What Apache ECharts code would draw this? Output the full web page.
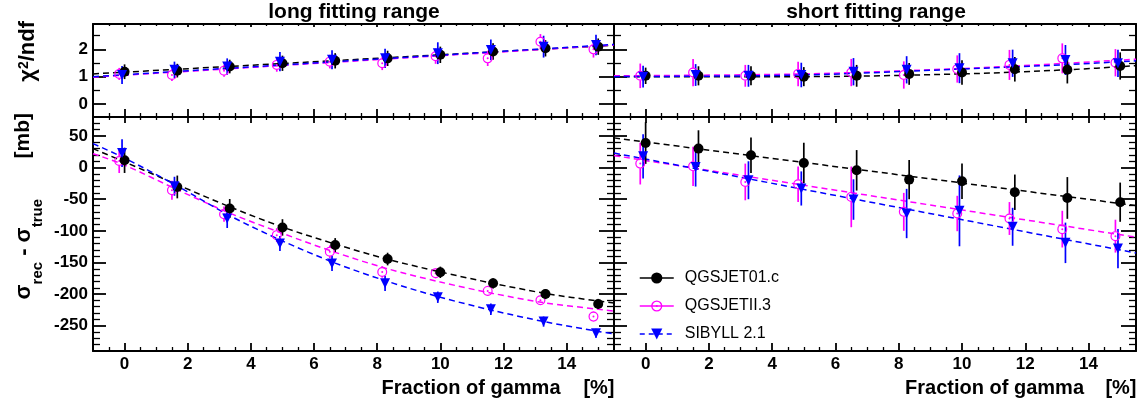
<!DOCTYPE html>
<html><head><meta charset="utf-8">
<script src="https://cdn.jsdelivr.net/npm/echarts@6/dist/echarts.min.js"></script>
<style>html,body{margin:0;padding:0;background:#fff}#c{width:1147px;height:405px}</style>
</head><body><div id="c"></div><script>
const FONT = '"Liberation Sans", Arial, Helvetica, sans-serif';

// ---- tick values ----
const xTickLabels = [0, 2, 4, 6, 8, 10, 12, 14];
const xMinorTicks = [-0.5, 0.5, 1, 1.5, 2.5, 3, 3.5, 4.5, 5, 5.5, 6.5, 7, 7.5, 8.5, 9, 9.5, 10.5, 11, 11.5, 12.5, 13, 13.5, 14.5, 15];
const chiTickLabels = [0, 1, 2];
const chiMinorTicks = [0.5, 1.5, 2.5];
const mbTickLabels = [-250, -200, -150, -100, -50, 0, 50];
const mbMinorTicks = [-280, -270, -260, -240, -230, -220, -210, -190, -180, -170, -160, -140, -130, -120, -110, -90, -80, -70, -60, -40, -30, -20, -10, 10, 20, 30, 40, 60, 70];

// ---- model names ----
const models = ['QGSJET01.c', 'QGSJETII.3', 'SIBYLL 2.1'];

// ---- x positions of the points (fraction of gamma, %) ----
const xQ01 = [0, 1.67, 3.33, 5.0, 6.67, 8.33, 10.0, 11.67, 13.33, 15.0];
const xQII = [-0.17, 1.5, 3.15, 4.82, 6.5, 8.16, 9.85, 11.5, 13.17, 14.85];
const xSIB = [-0.08, 1.58, 3.25, 4.92, 6.57, 8.25, 9.92, 11.6, 13.27, 14.93];

// ---- long fitting range, chi2/ndf ----
const chiLongQ01 = [1.18, 1.22, 1.37, 1.49, 1.58, 1.67, 1.80, 1.92, 2.04, 2.10];
const chiLongQ01Err = [0.27, 0.25, 0.25, 0.28, 0.28, 0.28, 0.30, 0.30, 0.30, 0.30];
const chiLongQII = [1.10, 1.06, 1.22, 1.43, 1.55, 1.49, 1.75, 1.67, 2.28, 2.00];
const chiLongQIIErr = [0.22, 0.22, 0.22, 0.25, 0.25, 0.25, 0.28, 0.28, 0.28, 0.30];
const chiLongSIB = [1.06, 1.25, 1.37, 1.55, 1.62, 1.67, 1.86, 1.98, 2.10, 2.16];
const chiLongSIBErr = [0.33, 0.30, 0.30, 0.35, 0.35, 0.35, 0.40, 0.38, 0.40, 0.38];

// ---- short fitting range, chi2/ndf ----
const chiShortQ01 = [1.03, 1.03, 1.03, 1.00, 1.03, 1.10, 1.15, 1.27, 1.25, 1.39];
const chiShortQ01Err = [0.30, 0.35, 0.35, 0.35, 0.40, 0.40, 0.45, 0.45, 0.50, 0.50];
const chiShortQII = [1.03, 1.15, 1.03, 1.10, 1.15, 1.06, 1.28, 1.43, 1.67, 1.51];
const chiShortQIIErr = [0.45, 0.50, 0.40, 0.45, 0.50, 0.50, 0.50, 0.55, 0.55, 0.50];
const chiShortSIB = [1.00, 1.06, 1.03, 1.06, 1.18, 1.25, 1.31, 1.49, 1.61, 1.49];
const chiShortSIBErr = [0.40, 0.40, 0.40, 0.45, 0.50, 0.50, 0.55, 0.50, 0.55, 0.50];

// ---- long fitting range, sigma_rec - sigma_true [mb] ----
const mbLongQ01 = [11.5, -30.6, -64.7, -94.6, -122.5, -144.6, -165.6, -183, -200, -215.6];
const mbLongQ01Err = [20, 18, 15, 13, 11, 10, 9, 8, 8, 8];
const mbLongQII = [10.4, -35.8, -73.7, -106.8, -133, -165, -167, -195, -209.8, -235.6];
const mbLongQIIErr = [19, 15, 12, 11, 10, 9, 8, 8, 7, 8];
const mbLongSIB = [23, -29.5, -80.5, -120, -151.5, -183, -205, -224, -243.5, -262];
const mbLongSIBErr = [22, 15, 15, 12, 12, 12, 9, 9, 8, 7];

// ---- short fitting range, sigma_rec - sigma_true [mb] ----
const mbShortQ01 = [38.8, 30, 19.4, 7.3, -4.3, -19, -21.6, -39, -48, -54.7];
const mbShortQ01Err = [33, 29, 28, 32, 32, 31, 28, 28, 33, 31];
const mbShortQII = [6.3, 2, -22.7, -26.3, -46.3, -70, -72.6, -80.5, -97.3, -108.4];
const mbShortQIIErr = [33, 31, 29, 28, 48, 30, 28, 26, 29, 26];
const mbShortSIB = [17.8, 1, -20, -33, -50.5, -72.6, -68.4, -93.6, -119, -128];
const mbShortSIBErr = [35, 31, 30, 27, 32, 39, 56, 30, 32, 31];

// ---- fitted curves ----
const fitLongChiX = [-1, 15.5];
const fitLongChiQ01 = [1.10, 2.15];
const fitLongChiQII = [0.98, 2.16];
const fitLongChiSIB = [1.00, 2.18];

const fitShortChiX = [-1, 5, 10, 13.3, 15.5];
const fitShortChiQ01 = [1.00, 1.00, 1.10, 1.25, 1.40];
const fitShortChiQII = [1.03, 1.10, 1.30, 1.49, 1.64];
const fitShortChiSIB = [1.00, 1.06, 1.28, 1.44, 1.58];

const fitLongMbX = [-1, 0, 1.67, 3.33, 5, 6.67, 8.33, 10, 11.67, 13.33, 15, 15.5];
const fitLongMbQ01 = [30, 9, -27, -62, -94, -121, -145, -165, -183, -199, -211, -214];
const fitLongMbQII = [22, 4, -35, -72, -104, -134, -160, -181, -199, -214, -224, -227];
const fitLongMbSIB = [38, 15, -29, -76, -116, -151, -180, -205, -226, -244, -259, -263];

const fitShortMbX = [-1, 15.5];
const fitShortMbQ01 = [47, -60];
const fitShortMbQII = [19, -110];
const fitShortMbSIB = [23, -135];

// ---- styling ----
const COLORS = ['#000000', '#ff00ff', '#0000ff'];
const RING = 'path://M10,0A10,10,0,1,1,-10,0A10,10,0,1,1,10,0ZM7.6,0A7.6,7.6,0,1,0,-7.6,0A7.6,7.6,0,1,0,7.6,0ZM2,0A2,2,0,1,1,-2,0A2,2,0,1,1,2,0Z';
const SYMBOLS = [
  { symbol: 'circle', size: 10, rotate: 0, gap: 0, dash: 'solid' },
  { symbol: RING, size: 10, rotate: 0, gap: 4.6, dash: 'solid' },
  { symbol: 'triangle', size: 10, rotate: 180, gap: 0, dash: [5, 4] }
];

const grids = [
  { left: 93, top: 24, width: 521, height: 93 },
  { left: 614, top: 24, width: 522, height: 93 },
  { left: 93, top: 117, width: 521, height: 234 },
  { left: 614, top: 117, width: 522, height: 234 }
];

const labelStyle = { color: '#000', fontFamily: FONT, fontWeight: 'bold', fontSize: 17 };

function axis(dim, g, pos, min, max, ticks, len, width, showLine, labels) {
  return {
    type: 'value', gridIndex: g, position: pos, min: min, max: max,
    axisLine: { show: showLine, onZero: false, lineStyle: { color: '#000', width: 2 } },
    axisTick: { show: true, inside: true, length: len, customValues: ticks, lineStyle: { color: '#000', width: width } },
    axisLabel: labels ? Object.assign({ show: true, customValues: ticks, margin: dim === 'x' ? 5 : 5 }, labelStyle) : { show: false },
    splitLine: { show: false }, minorTick: { show: false }, silent: true
  };
}

const xAxes = [], yAxes = [];
for (let g = 0; g < 4; g++) {
  const bottomRow = g >= 2;
  const leftCol = g % 2 === 0;
  const yMin = bottomRow ? -290 : -0.48, yMax = bottomRow ? 80 : 2.93;
  const yMaj = bottomRow ? mbTickLabels : chiTickLabels;
  const yMin2 = bottomRow ? mbMinorTicks : chiMinorTicks;
  const topLen = bottomRow ? [6, 3] : [3, 2];
  xAxes.push(axis('x', g, 'bottom', -1, 15.5, xTickLabels, 8, 1.8, true, bottomRow));
  xAxes.push(axis('x', g, 'bottom', -1, 15.5, xMinorTicks, 4, 1.3, false, false));
  xAxes.push(axis('x', g, 'top', -1, 15.5, xTickLabels, topLen[0], 1.8, true, false));
  xAxes.push(axis('x', g, 'top', -1, 15.5, xMinorTicks, topLen[1], 1.3, false, false));
  yAxes.push(axis('y', g, 'left', yMin, yMax, yMaj, 13, 1.8, true, leftCol));
  yAxes.push(axis('y', g, 'left', yMin, yMax, yMin2, 7, 1.3, false, false));
  yAxes.push(axis('y', g, 'right', yMin, yMax, yMaj, 15, 1.8, true, false));
  yAxes.push(axis('y', g, 'right', yMin, yMax, yMin2, 7, 1.3, false, false));
}

function pairs(xs, ys) { return xs.map((x, i) => [x, ys[i]]); }

function fitSeries(id, g, xs, ys, k) {
  return {
    name: 'fit ' + id, type: 'line', xAxisIndex: g * 4, yAxisIndex: g * 4,
    data: pairs(xs, ys), symbol: 'none', showSymbol: false,
    smooth: xs.length > 2 ? 0.3 : false,
    lineStyle: { color: COLORS[k], width: 1.5, type: [6, 4] },
    silent: true, z: 2
  };
}

function errSeries(g, xs, ys, es, k) {
  const color = COLORS[k], gap = SYMBOLS[k].gap;
  return {
    type: 'custom', xAxisIndex: g * 4, yAxisIndex: g * 4, silent: true, z: 3,
    data: xs.map((x, i) => [x, ys[i], es[i]]),
    renderItem: function (params, api) {
      const x = api.value(0), y = api.value(1), e = api.value(2);
      const c = api.coord([x, y]);
      const t = api.coord([x, y + e]);
      const b = api.coord([x, y - e]);
      const ch = [];
      if (t[1] < c[1] - gap) ch.push({ type: 'line', shape: { x1: c[0], y1: t[1], x2: c[0], y2: c[1] - gap }, style: { stroke: color, lineWidth: 1.7 } });
      if (b[1] > c[1] + gap) ch.push({ type: 'line', shape: { x1: c[0], y1: c[1] + gap, x2: c[0], y2: b[1] }, style: { stroke: color, lineWidth: 1.7 } });
      return { type: 'group', children: ch };
    }
  };
}

function markerSeries(g, xs, ys, k) {
  const s = SYMBOLS[k];
  return {
    name: models[k], type: 'line', xAxisIndex: g * 4, yAxisIndex: g * 4,
    data: pairs(xs, ys), symbol: s.symbol, symbolSize: s.size, symbolRotate: s.rotate,
    showSymbol: true, showAllSymbol: true,
    lineStyle: { color: COLORS[k], width: 1.5, type: s.dash, opacity: 0 },
    itemStyle: { color: COLORS[k], borderWidth: 0 },
    emphasis: { disabled: true }, silent: true, z: 4
  };
}

const panels = [
  { g: 0, fx: fitLongChiX, fits: [fitLongChiQ01, fitLongChiQII, fitLongChiSIB],
    ys: [chiLongQ01, chiLongQII, chiLongSIB], es: [chiLongQ01Err, chiLongQIIErr, chiLongSIBErr] },
  { g: 1, fx: fitShortChiX, fits: [fitShortChiQ01, fitShortChiQII, fitShortChiSIB],
    ys: [chiShortQ01, chiShortQII, chiShortSIB], es: [chiShortQ01Err, chiShortQIIErr, chiShortSIBErr] },
  { g: 2, fx: fitLongMbX, fits: [fitLongMbQ01, fitLongMbQII, fitLongMbSIB],
    ys: [mbLongQ01, mbLongQII, mbLongSIB], es: [mbLongQ01Err, mbLongQIIErr, mbLongSIBErr] },
  { g: 3, fx: fitShortMbX, fits: [fitShortMbQ01, fitShortMbQII, fitShortMbSIB],
    ys: [mbShortQ01, mbShortQII, mbShortSIB], es: [mbShortQ01Err, mbShortQIIErr, mbShortSIBErr] }
];
const xsAll = [xQ01, xQII, xSIB];
const drawOrder = [1, 0, 2];

const series = [];
panels.slice().reverse().forEach(p => {
  for (let k = 0; k < 3; k++) series.push(fitSeries(p.g + '-' + k, p.g, p.fx, p.fits[k], k));
  drawOrder.forEach(k => {
    series.push(errSeries(p.g, xsAll[k], p.ys[k], p.es[k], k));
    series.push(markerSeries(p.g, xsAll[k], p.ys[k], k));
  });
});

const bold = (size) => ({ fontFamily: FONT, fontWeight: 'bold', fontSize: size, fill: '#000' });

const option = {
  animation: false,
  backgroundColor: '#fff',
  grid: grids.map(g => Object.assign({ containLabel: false }, g)),
  xAxis: xAxes,
  yAxis: yAxes,
  legend: {
    data: models, orient: 'vertical', left: 634, top: 265,
    itemWidth: 34, itemHeight: 14, itemGap: 12, selectedMode: false,
    lineStyle: { width: 1.5, opacity: 1 },
    textStyle: { fontFamily: FONT, fontSize: 16, color: '#000', padding: [0, 0, 0, 6] }
  },
  graphic: [
    { type: 'text', x: 354, y: 12, silent: true, style: Object.assign({ text: 'long fitting range', align: 'center', verticalAlign: 'middle' }, bold(21)) },
    { type: 'text', x: 876, y: 12, silent: true, style: Object.assign({ text: 'short fitting range', align: 'center', verticalAlign: 'middle' }, bold(21)) },
    { type: 'text', x: 560.5, y: 388, silent: true, style: Object.assign({ text: 'Fraction of gamma', align: 'right', verticalAlign: 'middle' }, bold(20)) },
    { type: 'text', x: 614.5, y: 388, silent: true, style: Object.assign({ text: '[%]', align: 'right', verticalAlign: 'middle' }, bold(20)) },
    { type: 'text', x: 1084, y: 388, silent: true, style: Object.assign({ text: 'Fraction of gamma', align: 'right', verticalAlign: 'middle' }, bold(20)) },
    { type: 'text', x: 1136.5, y: 388, silent: true, style: Object.assign({ text: '[%]', align: 'right', verticalAlign: 'middle' }, bold(20)) },
    { type: 'text', x: 28, y: 21, rotation: Math.PI / 2, silent: true,
      style: { text: '{m|χ}{s|2}{m|/ndf}', align: 'right', verticalAlign: 'middle', fill: '#000',
        rich: { m: { fontFamily: FONT, fontWeight: 'bold', fontSize: 22, lineHeight: 22, verticalAlign: 'bottom' },
                s: { fontFamily: FONT, fontWeight: 'bold', fontSize: 14, lineHeight: 14, verticalAlign: 'top' } } } },
    { type: 'text', x: 23, y: 113, rotation: Math.PI / 2, silent: true,
      style: Object.assign({ text: '[mb]', align: 'right', verticalAlign: 'middle' }, bold(21)) },
    { type: 'text', x: 29, y: 199, rotation: Math.PI / 2, silent: true,
      style: { text: '{m|σ}{s|rec}{m| - σ}{s|true}', align: 'right', verticalAlign: 'middle', fill: '#000',
        rich: { m: { fontFamily: FONT, fontWeight: 'bold', fontSize: 22, lineHeight: 22, verticalAlign: 'top' },
                s: { fontFamily: FONT, fontWeight: 'bold', fontSize: 15, lineHeight: 32, verticalAlign: 'bottom' } } } }
  ],
  series: series
};

const chart = echarts.init(document.getElementById('c'), null, { renderer: 'canvas' });
chart.setOption(option);
</script></body></html>
